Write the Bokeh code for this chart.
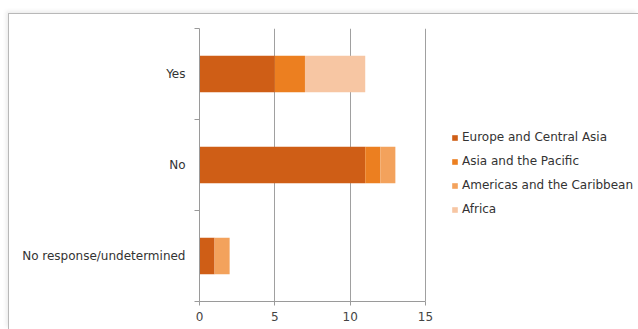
from bokeh.plotting import figure
from bokeh.models import (ColumnDataSource, Range1d, FixedTicker, Legend, LegendItem)
from bokeh.embed import file_html
from bokeh.resources import INLINE

categories = ["No response/undetermined", "No", "Yes"]
regions = ["Europe and Central Asia", "Asia and the Pacific",
           "Americas and the Caribbean", "Africa"]
europe = [1, 11, 5]
asia = [0, 1, 2]
americas = [1, 1, 0]
africa = [0, 0, 4]
x_ticks = [0, 5, 10, 15]

colors = ["#CF5E16", "#EC7F20", "#F3A25C", "#F7C6A3"]
keys = ["europe", "asia", "americas", "africa"]

ypos = [i + 0.5 for i in range(len(categories))]
source = ColumnDataSource(data=dict(y=ypos, europe=europe, asia=asia,
                                    americas=americas, africa=africa))

# frame spans to the right edge so the legend sits inside it; axis 0-15 occupies 226 px
X_MAX = 15
FRAME_W = 630 - 190
x_end = X_MAX * FRAME_W / 226.0

p = figure(width=630, height=316, output_backend="svg", toolbar_location=None,
           x_range=Range1d(0, x_end), y_range=Range1d(0, 3),
           min_border_left=190, min_border_right=0,
           min_border_top=14, min_border_bottom=29)
p.margin = (13, 0, 0, 8)
p.styles = {"border-left": "1px solid #b8b8b8", "border-top": "1px solid #b8b8b8",
            "box-shadow": "-2px -2px 4px rgba(0,0,0,0.08)"}
p.background_fill_color = "white"
p.border_fill_color = "white"
p.outline_line_color = None

renderers = p.hbar_stack(keys, y="y", height=0.4, color=colors, source=source,
                         line_color=None)

p.xaxis.ticker = FixedTicker(ticks=x_ticks)
p.xaxis.bounds = (0, X_MAX)
p.xaxis.axis_line_color = "#9a9a9a"
p.xaxis.major_tick_line_color = "#9a9a9a"
p.xaxis.major_tick_out = 4
p.xaxis.major_tick_in = 0
p.xaxis.minor_tick_line_color = None
p.xaxis.major_label_text_font = "DejaVu Sans"
p.xaxis.major_label_text_font_size = "12px"
p.xaxis.major_label_text_color = "#444444"
p.xaxis.major_label_standoff = 6

p.yaxis.ticker = FixedTicker(ticks=ypos, minor_ticks=[0, 1, 2, 3])
p.yaxis.major_label_overrides = {y: c for y, c in zip(ypos, categories)}
p.yaxis.axis_line_color = "#9a9a9a"
p.yaxis.major_tick_line_color = None
p.yaxis.minor_tick_line_color = "#9a9a9a"
p.yaxis.minor_tick_out = 5
p.yaxis.minor_tick_in = 0
p.yaxis.major_label_text_font = "DejaVu Sans"
p.yaxis.major_label_text_font_size = "12px"
p.yaxis.major_label_text_color = "#333333"
p.yaxis.major_label_standoff = 8

p.xgrid.ticker = FixedTicker(ticks=x_ticks)
p.xgrid.grid_line_color = "#a0a0a0"
p.ygrid.grid_line_color = None

legend = Legend(items=[LegendItem(label=r, renderers=[rr]) for r, rr in zip(regions, renderers)],
                location=(252, 85))
legend.label_text_font = "DejaVu Sans"
legend.label_text_font_size = "12px"
legend.label_text_color = "#333333"
legend.glyph_width = 7
legend.glyph_height = 7
legend.label_height = 14
legend.spacing = 10
legend.padding = 0
legend.margin = 0
legend.label_standoff = 4
legend.border_line_color = None
legend.background_fill_alpha = 0
p.add_layout(legend)

open("out.html", "w").write(file_html(p, INLINE))
